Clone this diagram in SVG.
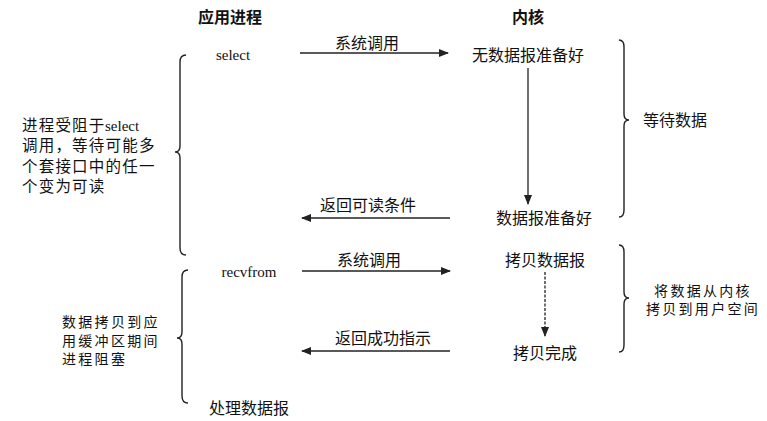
<svg xmlns="http://www.w3.org/2000/svg" width="767" height="421" viewBox="0 0 767 421">
<style>
.t{font-family:"Noto Sans CJK SC","Noto Sans",sans-serif;font-size:16px;fill:#111}
.n{font-family:"Noto Sans CJK SC","Noto Sans",sans-serif;font-size:14px;letter-spacing:2.3px;fill:#111}
.h{font-family:"Noto Sans CJK SC","Noto Sans",sans-serif;font-size:16px;font-weight:bold;fill:#111}
.s{font-family:"Liberation Serif","Noto Sans CJK SC",serif;font-size:15px;fill:#111}
.l{font-family:"Noto Sans CJK SC","Noto Sans",sans-serif;font-size:15.5px;letter-spacing:1.2px;fill:#111}
.c{stroke:#222;stroke-width:1.3;fill:none}
.b{stroke:#222;stroke-width:1.4;fill:none}
</style>
<defs>
<marker id="ah" markerWidth="10" markerHeight="8" refX="9" refY="4" orient="auto" markerUnits="userSpaceOnUse">
<path d="M0,0 L10,4 L0,8 z" fill="#222"/>
</marker>
</defs>
<rect width="767" height="421" fill="#fff"/>
<g id="header-app"><text class="h" x="230" y="23" text-anchor="middle">应用进程</text></g>
<g id="header-kernel"><text class="h" x="528" y="23" text-anchor="middle">内核</text></g>
<g id="select"><text class="s" x="233" y="60" text-anchor="middle">select</text></g>
<g id="no-data"><text class="t" x="528" y="61" text-anchor="middle">无数据报准备好</text></g>
<g id="data-ready"><text class="t" x="544" y="224" text-anchor="middle">数据报准备好</text></g>
<g id="recvfrom"><text class="s" x="249" y="277" text-anchor="middle">recvfrom</text></g>
<g id="copy-data"><text class="t" x="545" y="266" text-anchor="middle">拷贝数据报</text></g>
<g id="copy-done"><text class="t" x="545" y="359" text-anchor="middle">拷贝完成</text></g>
<g id="process"><text class="t" x="249" y="414" text-anchor="middle">处理数据报</text></g>
<g id="wait-note">
<path class="b" d="M186,55 Q180,55 180,62 L180,146 Q180,152 175,152 Q180,152 180,158 L180,248 Q180,255 186,255"/>
<text class="l" x="22" y="130.5">进程受阻于</text>
<text class="s" x="105" y="130.5" font-size="16">select</text>
<text class="l" x="22" y="151">调用，等待可能多</text>
<text class="l" x="22" y="171.5">个套接口中的任一</text>
<text class="l" x="22" y="192">个变为可读</text>
</g>
<g id="copy-note">
<path class="b" d="M188,270 Q182,270 182,277 L182,332 Q182,338 177,338 Q182,338 182,344 L182,396 Q182,403 188,403"/>
<text class="n" x="62" y="327">数据拷贝到应</text>
<text class="n" x="62" y="345.5">用缓冲区期间</text>
<text class="n" x="62" y="364">进程阻塞</text>
</g>
<g id="wait-data">
<path class="b" d="M619,40 Q624,40 624,47 L624,114 Q624,120 629,120 Q624,120 624,126 L624,210 Q624,217 619,217"/>
<text class="t" x="643" y="126">等待数据</text>
</g>
<g id="copy-kernel">
<path class="b" d="M619,245 Q624,245 624,252 L624,292 Q624,298 629,298 Q624,298 624,304 L624,345 Q624,352 619,352"/>
<text class="n" x="703" y="295.5" text-anchor="middle">将数据从内核</text>
<text class="n" x="703" y="314" text-anchor="middle">拷贝到用户空间</text>
</g>
<g id="connectors">
<line class="c" x1="300" y1="53" x2="448" y2="53" marker-end="url(#ah)"/>
<text class="t" x="367" y="49" text-anchor="middle">系统调用</text>
<line class="c" x1="528" y1="68" x2="528" y2="204" marker-end="url(#ah)"/>
<line class="c" x1="450" y1="218" x2="302" y2="218" marker-end="url(#ah)"/>
<text class="t" x="368" y="211" text-anchor="middle">返回可读条件</text>
<line class="c" x1="302" y1="271" x2="450" y2="271" marker-end="url(#ah)"/>
<text class="t" x="369" y="266" text-anchor="middle">系统调用</text>
<line class="c" x1="545" y1="272" x2="545" y2="336" stroke-dasharray="3,1.5" marker-end="url(#ah)"/>
<line class="c" x1="450" y1="351" x2="302" y2="351" marker-end="url(#ah)"/>
<text class="t" x="383" y="344" text-anchor="middle">返回成功指示</text>
</g>
</svg>
